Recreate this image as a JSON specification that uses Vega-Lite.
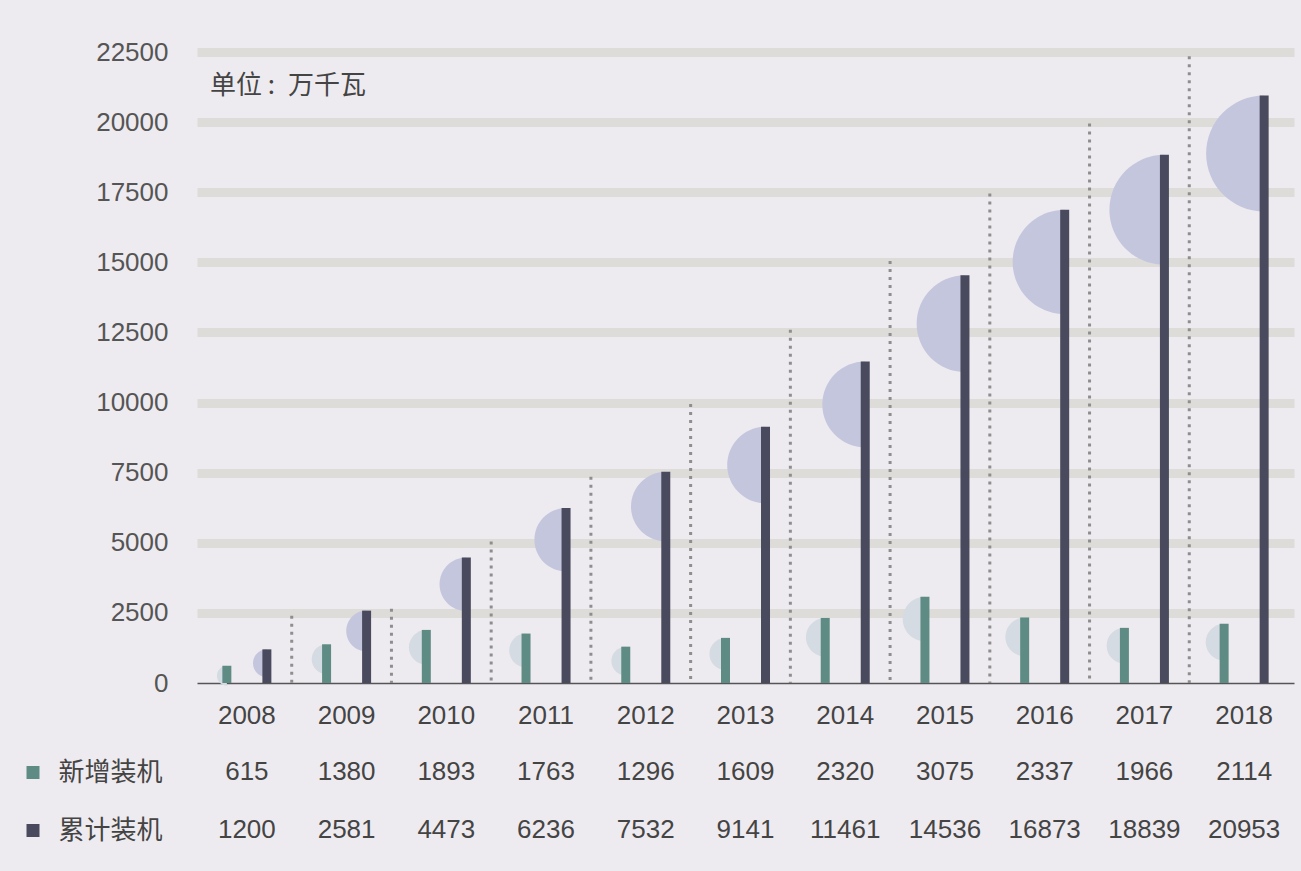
{
  "$schema": "https://vega.github.io/schema/vega-lite/v6.json",
  "background": "#EEEBF0",
  "padding": {"left": 19, "top": 39, "right": 7, "bottom": 13},
  "config": {
    "view": {"stroke": null},
    "font": "Liberation Sans"
  },
  "datasets": {
    "installs": [
      {"year": "2008", "series": "新增装机", "value": 615},
      {"year": "2009", "series": "新增装机", "value": 1380},
      {"year": "2010", "series": "新增装机", "value": 1893},
      {"year": "2011", "series": "新增装机", "value": 1763},
      {"year": "2012", "series": "新增装机", "value": 1296},
      {"year": "2013", "series": "新增装机", "value": 1609},
      {"year": "2014", "series": "新增装机", "value": 2320},
      {"year": "2015", "series": "新增装机", "value": 3075},
      {"year": "2016", "series": "新增装机", "value": 2337},
      {"year": "2017", "series": "新增装机", "value": 1966},
      {"year": "2018", "series": "新增装机", "value": 2114},
      {"year": "2008", "series": "累计装机", "value": 1200},
      {"year": "2009", "series": "累计装机", "value": 2581},
      {"year": "2010", "series": "累计装机", "value": 4473},
      {"year": "2011", "series": "累计装机", "value": 6236},
      {"year": "2012", "series": "累计装机", "value": 7532},
      {"year": "2013", "series": "累计装机", "value": 9141},
      {"year": "2014", "series": "累计装机", "value": 11461},
      {"year": "2015", "series": "累计装机", "value": 14536},
      {"year": "2016", "series": "累计装机", "value": 16873},
      {"year": "2017", "series": "累计装机", "value": 18839},
      {"year": "2018", "series": "累计装机", "value": 20953}
    ],
    "dividers": [
      {"year": "2009", "top": 2400},
      {"year": "2010", "top": 2650},
      {"year": "2011", "top": 5050},
      {"year": "2012", "top": 7350},
      {"year": "2013", "top": 9950},
      {"year": "2014", "top": 12600},
      {"year": "2015", "top": 15050},
      {"year": "2016", "top": 17450},
      {"year": "2017", "top": 19950},
      {"year": "2018", "top": 22350}
    ]
  },
  "spacing": 60,
  "bounds": "flush",
  "resolve": {
    "scale": {"x": "independent", "y": "independent", "color": "independent", "fill": "independent", "size": "independent"}
  },
  "vconcat": [
    {
      "width": 1097,
      "height": 631,
      "title": {
        "text": "单位 :\u2002万千瓦",
        "anchor": "start",
        "frame": "group",
        "orient": "top",
        "offset": -81,
        "dx": 13,
        "font": "Noto Sans CJK SC",
        "fontSize": 26,
        "fontWeight": "normal",
        "color": "#444444",
        "baseline": "alphabetic"
      },
      "layer": [
        {
          "data": {"name": "installs"},
          "mark": {
            "type": "point",
            "shape": "M0,0C-0.5523,0,-1,0.4477,-1,1C-1,1.5523,-0.5523,2,0,2Z",
            "filled": true,
            "opacity": 1,
            "strokeWidth": 0
          },
          "encoding": {
            "x": {
              "field": "year",
              "type": "ordinal",
              "scale": {"paddingInner": 0, "paddingOuter": 0},
              "axis": {
                "title": null,
                "ticks": false,
                "labelAngle": 0,
                "labelFontSize": 26,
                "labelColor": "#444444",
                "labelPadding": 19,
                "domainColor": "#555555",
                "domainWidth": 1.5,
                "grid": false
              }
            },
            "xOffset": {
              "field": "series",
              "type": "nominal",
              "scale": {"domain": ["新增装机", "累计装机"], "paddingInner": 0.5, "paddingOuter": 0.496}
            },
            "y": {
              "field": "value",
              "type": "quantitative",
              "scale": {"domain": [0, 22500], "nice": false},
              "axis": {
                "title": null,
                "values": [0, 2500, 5000, 7500, 10000, 12500, 15000, 17500, 20000, 22500],
                "format": "d",
                "ticks": false,
                "domain": false,
                "labelFontSize": 26,
                "labelColor": "#555555",
                "labelPadding": 29,
                "gridWidth": 9,
                "gridColor": {"condition": {"test": "datum.value === 0", "value": "transparent"}, "value": "#DDDCD8"}
              }
            },
            "size": {
              "field": "value",
              "type": "quantitative",
              "scale": {"domain": [0, 21000], "range": [0, 13500]},
              "legend": null
            },
            "fill": {
              "field": "series",
              "type": "nominal",
              "scale": {"domain": ["新增装机", "累计装机"], "range": ["#D4DBE2", "#C4C6DE"]},
              "legend": null
            }
          }
        },
        {
          "data": {"name": "installs"},
          "mark": {"type": "bar", "width": 9},
          "encoding": {
            "x": {"field": "year", "type": "ordinal", "scale": {"paddingInner": 0, "paddingOuter": 0}},
            "xOffset": {
              "field": "series",
              "type": "nominal",
              "scale": {"domain": ["新增装机", "累计装机"], "paddingInner": 0.5, "paddingOuter": 0.496}
            },
            "y": {"field": "value", "type": "quantitative"},
            "color": {
              "field": "series",
              "type": "nominal",
              "scale": {"domain": ["新增装机", "累计装机"], "range": ["#5E8B84", "#4A4A5E"]},
              "legend": null
            }
          }
        },
        {
          "data": {"name": "dividers"},
          "mark": {"type": "rule", "strokeDash": [3, 5], "strokeWidth": 3, "color": "#8E8E8E", "xOffset": -5},
          "encoding": {
            "x": {"field": "year", "type": "ordinal", "bandPosition": 0},
            "y": {"field": "top", "type": "quantitative"},
            "y2": {"datum": 0}
          }
        }
      ]
    },
    {
      "width": 1097,
      "height": 116,
      "data": {"name": "installs"},
      "mark": {"type": "text", "font": "Liberation Sans", "fontSize": 26, "color": "#444444"},
      "encoding": {
        "x": {"field": "year", "type": "ordinal", "axis": null},
        "y": {
          "field": "series",
          "type": "nominal",
          "scale": {"domain": ["新增装机", "累计装机"]},
          "axis": {
            "title": null,
            "orient": "left",
            "offset": 158,
            "domain": false,
            "ticks": true,
            "tickSize": 13,
            "tickWidth": 13,
            "tickColor": {"condition": {"test": "datum.value === '新增装机'", "value": "#5E8B84"}, "value": "#4A4A5E"},
            "labelAlign": "left",
            "labelBaseline": "middle",
            "labelPadding": -32,
            "labelFont": "Noto Sans CJK SC",
            "labelFontSize": 26,
            "labelColor": "#444444",
            "labelLimit": 300
          }
        },
        "text": {"field": "value", "type": "quantitative", "format": "d"}
      }
    }
  ]
}
